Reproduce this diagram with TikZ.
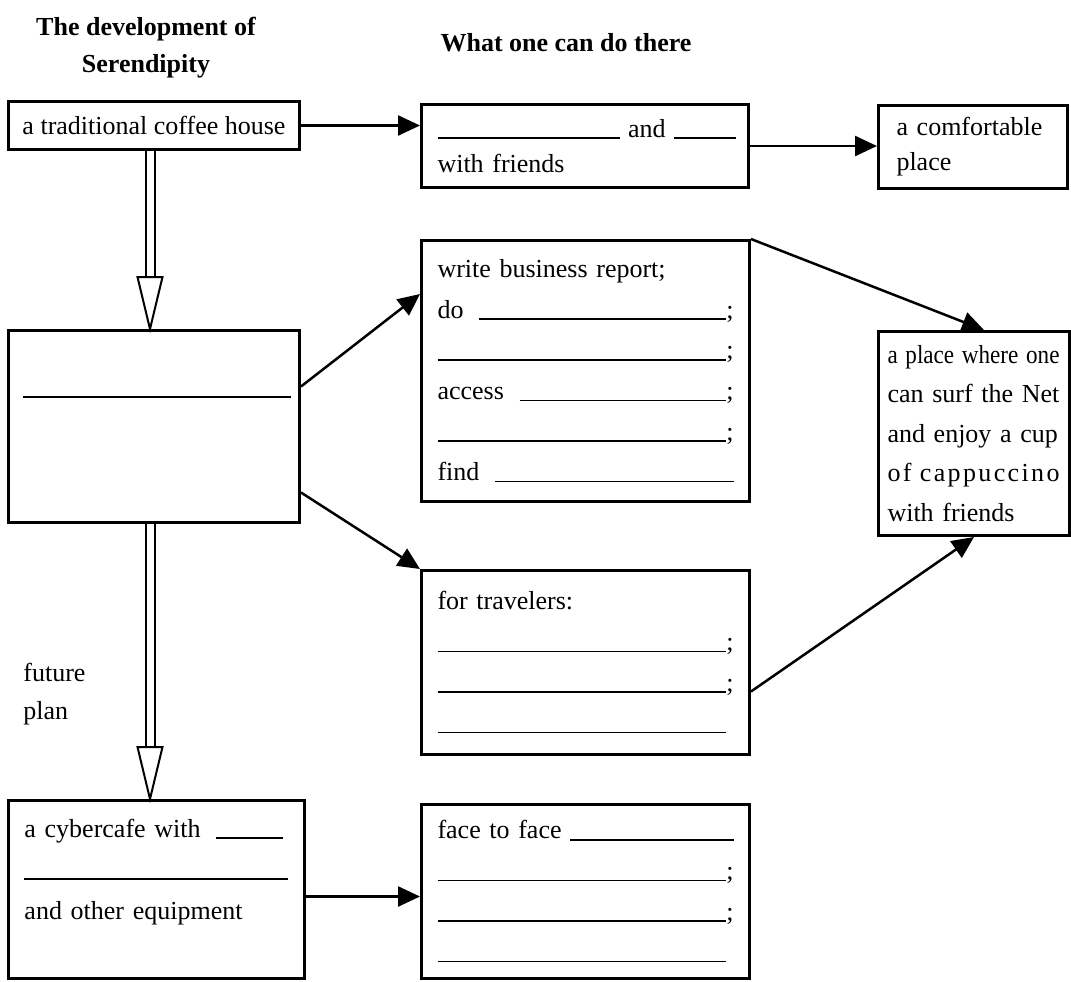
\documentclass[tikz,border=0pt]{standalone}
\usepackage{fontspec}
\setmainfont{Liberation Serif}
\usepackage{graphicx}
\usetikzlibrary{arrows.meta,calc}
\newcommand\blank[1]{\rule[-0.8pt]{#1}{0.8pt}}
\newcommand\blankfill{\mbox{}\leaders\hrule height 0pt depth 0.8pt\hfill\kern0pt}
\newcommand\hollowdown[2]{% double shaft with open head: {start}{tip}
  \draw[shaft] ($(#1)+(-4.5,0)$) -- ($(#2)+(-4.5,-52)$);
  \draw[shaft] ($(#1)+(4.5,0)$) -- ($(#2)+(4.5,-52)$);
  \draw[shaft,fill=white,line join=miter] ($(#2)+(-12.5,-52)$) -- (#2) -- ($(#2)+(12.5,-52)$) -- cycle;
}
\begin{document}
\begin{tikzpicture}[x=0.5pt,y=-0.5pt,
  card/.style={draw,line width=1.5pt,anchor=north west,inner xsep=8pt,inner ysep=0pt,align=left,
    font=\fontsize{13}{20.3}\selectfont},
  link/.style={line width=1.25pt,-{Triangle[length=11pt,width=10pt]}},
  shaft/.style={line width=1pt},
  blankline/.style={line width=0.8pt}]
  \useasboundingbox (0,0) rectangle (1071,981);

  %headings
  \node[font=\fontsize{13}{18.5}\selectfont\bfseries,align=center,anchor=north,inner sep=0pt] (title) at (146,17) {The development of\\Serendipity};
  \node[font=\fontsize{13}{18.5}\selectfont\bfseries,anchor=base,inner sep=0pt] (doing) at (566,51) {What one can do there};

  %left column
  \node[card,inner xsep=5pt,minimum width=145.5pt,minimum height=24pt] (coffee) at (7,100) {a traditional coffee house};
  \node[card,minimum width=145.5pt,minimum height=96pt] (blankbox) at (7,329) {};
  \draw[blankline] ($(blankbox.north west)+(16,68)$) -- ($(blankbox.north east)+(-10,68)$);
  \node[anchor=north west,inner sep=0pt,align=left,font=\fontsize{13}{19}\selectfont] (plan) at (23,663) {future\\plan};
  \node[card,text width=132pt,minimum height=89pt,font=\fontsize{13}{20.5}\selectfont] (cyber) at (7,799)
    {a cybercafe with\hspace{0.6em}\blankfill\kern2.5pt\\\blankfill\\and other equipment\\\mbox{}};

  %middle column
  \node[card,text width=147.5pt,minimum height=41.5pt,font=\fontsize{13}{17.5}\selectfont] (chat) at (420,103)
    {\mbox{\blank{91pt} and \blank{31pt}}\\with friends};
  \node[card,text width=148pt,minimum height=130.5pt] (business) at (420,239)
    {write business report;\\do\hspace{0.6em}\blankfill;\\\blankfill;\\access\hspace{0.6em}\blankfill;\\\blankfill;\\find\hspace{0.6em}\blankfill};
  \node[card,text width=148pt,minimum height=92pt] (travel) at (420,569)
    {for travelers:\\\blankfill;\\\blankfill;\\\blankfill\kern4pt};
  \node[card,text width=148pt,minimum height=87pt] (face) at (420,803)
    {face to face \blankfill\\\blankfill;\\\blankfill;\\\blankfill\kern4pt};

  %right column
  \node[card,inner xsep=9pt,text width=76.5pt,minimum height=41.5pt,font=\fontsize{13}{17.5}\selectfont] (comfort) at (877,104)
    {a comfortable\\place};
  \node[card,inner xsep=4.5pt,text width=86.5pt,minimum height=102pt,font=\fontsize{13}{19.75}\selectfont] (surf) at (877,330)
    {\makebox[86pt][l]{\resizebox{86pt}{\height}{a place where one}}\\
     \makebox[86pt][s]{can surf the Net}\\
     \makebox[86pt][s]{and enjoy a cup}\\
     \makebox[86pt][s]{o\hfil f\hspace{3pt plus 1fil}c\hfil a\hfil p\hfil p\hfil u\hfil c\hfil c\hfil i\hfil n\hfil o}\\
     with friends};

  %connectors
  \draw[link] (coffee.east) -- (coffee.east -| chat.west);
  \draw[link] (chat.east) -- (chat.east -| comfort.west);
  \draw[link] ([yshift=20pt]blankbox.east) -- ([yshift=38.5pt]business.west);
  \draw[link] ([yshift=-33pt]blankbox.east) -- (travel.north west);
  \draw[link] (business.north east) -- ([xshift=5pt]surf.north);
  \draw[link] ([yshift=-14.5pt]travel.east) -- (surf.south);
  \draw[link] ([yshift=-3.5pt]cyber.east) -- ([yshift=-3.5pt]cyber.east -| face.west);
  \hollowdown{[xshift=-2pt]blankbox.north |- coffee.south}{[xshift=-2pt]blankbox.north}
  \hollowdown{[xshift=-2pt]blankbox.south}{[xshift=-2pt]blankbox.south |- cyber.north}
\end{tikzpicture}
\end{document}
